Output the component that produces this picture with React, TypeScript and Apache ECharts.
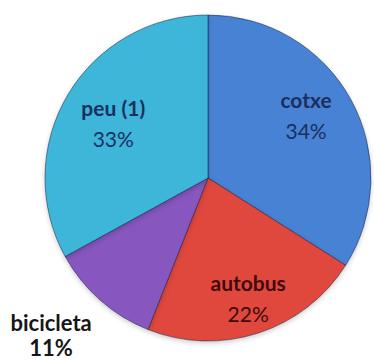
import React, { useEffect, useRef } from "react";
import * as echarts from "echarts";

// Modes of transport and their share (%)
const categories = ["cotxe", "autobus", "bicicleta", "peu (1)"];
const shares = [34, 22, 11, 33];
const sliceColors = ["#4682d4", "#e0473e", "#8757be", "#3cb6da"];
const labelColors = ["#1b2f5e", "#3f0b0b", "#161616", "#1b2f5e"];
// shift of each label from the slice's inner anchor
const labelOffsets: [number, number][] = [
  [24, -22],
  [14, 40],
  [-101, 94],
  [-22, -12],
];

export default function App() {
  const ref = useRef<HTMLDivElement>(null);

  useEffect(() => {
    if (!ref.current) return;
    const chart = echarts.init(ref.current, undefined, { renderer: "svg" });
    const font = "Lato, 'Open Sans', sans-serif";

    const data = categories.map((name, i) => {
      const outer = i === 2;
      const size = outer ? 22 : 21;
      const lh = outer ? 25 : 31;
      return {
        name,
        value: shares[i],
        itemStyle: { color: sliceColors[i] },
        label: {
          offset: labelOffsets[i],
          color: labelColors[i],
          rich: {
            n: {
              fontFamily: font,
              fontWeight: "bold",
              fontSize: size,
              lineHeight: lh,
              color: labelColors[i],
            },
            p: {
              fontFamily: font,
              fontWeight: outer ? "bold" : "normal",
              fontSize: size,
              lineHeight: lh,
              color: labelColors[i],
            },
          },
        },
      };
    });

    chart.setOption({
      animation: false,
      backgroundColor: "#ffffff",
      series: [
        {
          type: "pie",
          center: [208, 178],
          radius: [0, 163],
          startAngle: 90,
          clockwise: true,
          avoidLabelOverlap: false,
          itemStyle: {
            borderColor: "rgba(20,30,60,0.5)",
            borderWidth: 1,
            shadowBlur: 5,
            shadowOffsetY: 2,
            shadowColor: "rgba(0,0,0,0.2)",
          },
          label: {
            show: true,
            position: "inside",
            formatter: "{n|{b}}\n{p|{c}%}",
            align: "center",
          },
          labelLine: { show: false },
          emphasis: { disabled: true },
          data,
        },
      ],
    });

    return () => chart.dispose();
  }, []);

  return (
    <div
      ref={ref}
      style={{ position: "fixed", left: 0, top: 0, width: 374, height: 361 }}
    />
  );
}
